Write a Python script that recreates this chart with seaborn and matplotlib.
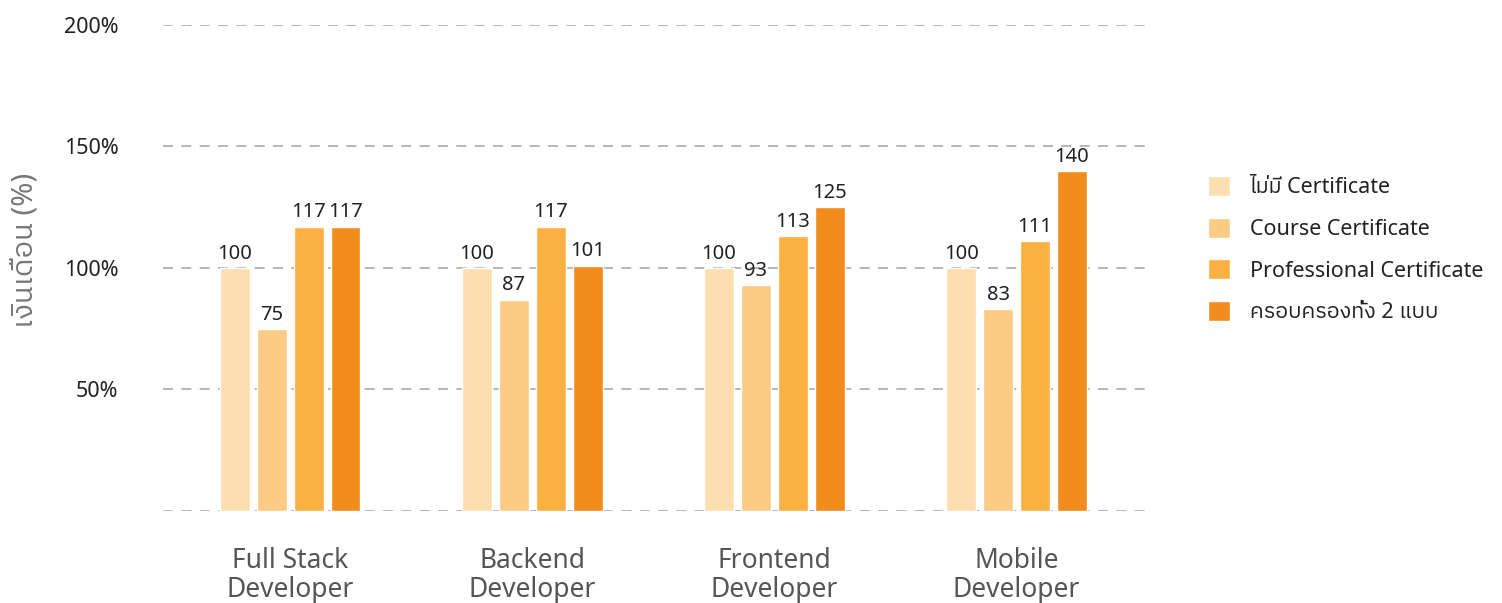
import pandas as pd
import matplotlib
matplotlib.use('Agg')
import matplotlib.pyplot as plt
from matplotlib import font_manager
import seaborn as sns

# ข้อมูลเงินเดือน (%) แยกตามตำแหน่งและประเภท certificate
roles = ['Full Stack\nDeveloper', 'Backend\nDeveloper', 'Frontend\nDeveloper', 'Mobile\nDeveloper']
cert_types = ['ไม่มี Certificate', 'Course Certificate', 'Professional Certificate', 'ครอบครองทั้ง 2 แบบ']
no_cert = [100, 100, 100, 100]
course_cert = [75, 87, 93, 83]
pro_cert = [117, 117, 113, 111]
both_cert = [117, 101, 125, 140]
yticks = [0, 50, 100, 150, 200]
ytick_labels = ['', '50%', '100%', '150%', '200%']
colors = ['#FDDEB0', '#FCCB86', '#FBB042', '#F28C1D']

rows = []
for cert, vals in zip(cert_types, [no_cert, course_cert, pro_cert, both_cert]):
    for role, v in zip(roles, vals):
        rows.append({'role': role, 'cert': cert, 'value': v})
df = pd.DataFrame(rows)

sns.set_style('white')
# หา font ที่มีภาษาไทย
names = sorted({f.name for f in font_manager.fontManager.ttflist})
thai = [n for n in names if 'Thai' in n and 'Looped' not in n]
thai += [n for n in names if n in ('Loma', 'Garuda', 'Kinnari', 'Norasi', 'Umpush', 'Waree', 'Sawasdee')]
plt.rcParams['font.family'] = ['Noto Sans'] + thai[:1] + ['DejaVu Sans']

fig = plt.figure(figsize=(15.02, 6.03), dpi=100)
ax = fig.add_axes([0.1085, 0.1526, 0.657, 0.806])

sns.barplot(data=df, x='role', y='value', hue='cert', palette=colors,
            width=0.61, gap=0.19, saturation=1, ax=ax)

for c in ax.containers:
    ax.bar_label(c, fmt='%d', padding=3, fontsize=14.5, color='#222222')

ax.set_ylim(0, 200)
ax.set_xlim(-0.525, 3.55)
ax.set_yticks(yticks)
ax.set_yticklabels(ytick_labels, fontsize=15.5, color='#222222')
ax.tick_params(axis='y', length=0, pad=32)
ax.tick_params(axis='x', length=0, pad=26, labelsize=19, labelcolor='#555555')
for t in ax.get_xticklabels():
    t.set_linespacing(1.05)
    t.set_fontweight('medium')
ax.grid(axis='y', color='#aaaaaa', linestyle=(0, (6, 5)), linewidth=1.2)
ax.set_axisbelow(True)
sns.despine(left=True, bottom=True)

ax.set_xlabel('')
ax.set_ylabel('เงินเดือน (%)', fontsize=21, color='#777777')
ax.yaxis.set_label_coords(-0.125, 0.537)

ax.legend(loc='center left', bbox_to_anchor=(0.804, 0.586), bbox_transform=fig.transFigure,
          frameon=False, fontsize=15.5, handlelength=1.05, handleheight=1.05,
          handletextpad=0.9, labelspacing=0.9, borderpad=0, borderaxespad=0,
          labelcolor='#222222')

plt.savefig('out.png', dpi=100)
